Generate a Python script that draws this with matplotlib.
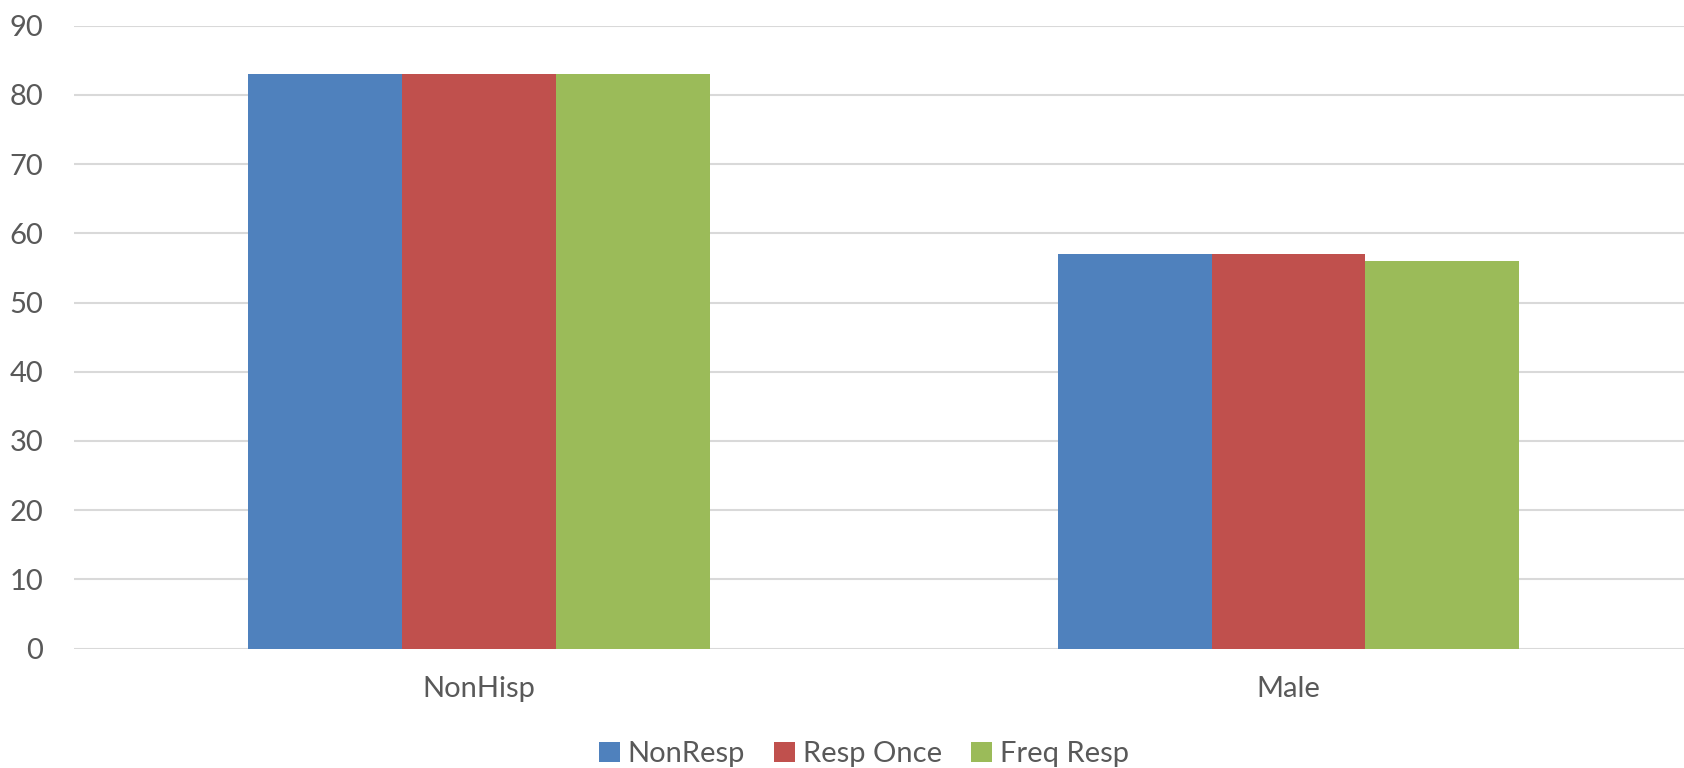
import matplotlib
matplotlib.use("Agg")
import matplotlib.pyplot as plt
import numpy as np

categories = ["NonHisp", "Male"]
series_names = ["NonResp", "Resp Once", "Freq Resp"]
nonresp = [83, 57]
resp_once = [83, 57]
freq_resp = [83, 56]
yticks = [0, 10, 20, 30, 40, 50, 60, 70, 80, 90]

colors = ["#4F81BD", "#C0504D", "#9BBB59"]
text_color = "#595959"

plt.rcParams['font.family'] = ['Lato', 'DejaVu Sans']

W, H = 1684, 768
fig = plt.figure(figsize=(W / 100, H / 100), dpi=100)
left, right = 74, 1684
top, bottom = 25.8, 648.5
ax = fig.add_axes([left / W, 1 - bottom / H, (right - left) / W, (bottom - top) / H])

x = np.arange(len(categories))
bw = 0.19
handles = []
for i, (vals, name, c) in enumerate(zip([nonresp, resp_once, freq_resp], series_names, colors)):
    b = ax.bar(x + (i - 1) * bw, vals, width=bw, color=c, label=name, zorder=3,
               edgecolor="none")
    handles.append(b)

ax.set_ylim(0, 90)
ax.set_xlim(-0.5003, 1.4886)
ax.set_yticks(yticks)
ax.set_xticks(x)
ax.set_xticklabels(categories)
ax.yaxis.grid(True, color="#D9D9D9", linewidth=1.5, zorder=0)
ax.set_axisbelow(True)
for s in ax.spines.values():
    s.set_visible(False)
ax.tick_params(axis='both', length=0, labelsize=21, colors=text_color)
ax.tick_params(axis='y', pad=22)
ax.tick_params(axis='x', pad=20)

fig.legend(handles=handles, labels=series_names, loc='center',
           bbox_to_anchor=(864 / W, 1 - 754 / H), ncol=3, frameon=False,
           fontsize=21, labelcolor=text_color, handlelength=0.7, handleheight=0.7,
           handletextpad=0.28, columnspacing=1.0)

fig.savefig("out.png", dpi=100)
